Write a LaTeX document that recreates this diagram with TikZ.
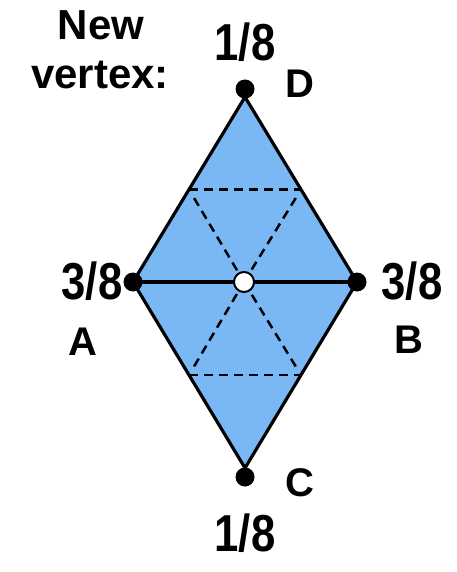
\documentclass[tikz,border=0pt]{standalone}
\usepackage{fontspec}
\setmainfont{Liberation Sans}
\newfontfamily\narrowfont[FakeStretch=0.84]{Liberation Sans}
\usetikzlibrary{calc}
\definecolor{shapefill}{RGB}{122,184,245}
\begin{document}
\begin{tikzpicture}[x=1pt,y=-1pt,
  wordlbl/.style={font=\fontsize{42}{42}\selectfont\bfseries, inner sep=0, anchor=base},
  fraclbl/.style={font=\narrowfont\fontsize{52}{52}\selectfont\bfseries, inner sep=0, anchor=base},
  letlbl/.style={font=\fontsize{40}{40}\selectfont\bfseries, inner sep=0, anchor=base},
  vdot/.style={circle, fill=black, minimum size=19pt, inner sep=0},
  odot/.style={circle, draw=black, fill=white, line width=2pt, minimum size=20pt, inner sep=0},
  edge/.style={line width=3.2pt, line join=round},
  guide/.style={line width=2.5pt, dash pattern=on 9pt off 6pt}
]
\useasboundingbox (0,0) rectangle (456,572);
\coordinate (Dt) at (245,97);
\coordinate (Ct) at (245,468);
\coordinate (A) at (133,282);
\coordinate (B) at (357,282);
\coordinate (M) at (244,282);
\fill[shapefill] (Dt) -- (A) -- (Ct) -- (B) -- cycle;
\coordinate (mDA) at ($(Dt)!0.5!(A)$);
\coordinate (mDB) at ($(Dt)!0.5!(B)$);
\coordinate (mCA) at ($(Ct)!0.5!(A)$);
\coordinate (mCB) at ($(Ct)!0.5!(B)$);
\draw[guide] (mDA) -- (mDB);
\draw[guide] (mCA) -- (mCB);
\draw[guide, shorten <=10pt, shorten >=8pt] (mDA) -- (M);
\draw[guide, shorten <=10pt, shorten >=8pt] (mDB) -- (M);
\draw[guide, shorten <=10pt, shorten >=8pt] (mCA) -- (M);
\draw[guide, shorten <=10pt, shorten >=8pt] (mCB) -- (M);
\draw[edge] (Dt) -- (A) -- (Ct) -- (B) -- cycle;
\draw[edge] (A) -- (B);
\node[vdot] (nD) at (245,89) {};
\node[vdot] (nC) at (245,477) {};
\node[vdot] (nA) at (A) {};
\node[vdot] (nB) at (B) {};
\node[odot] (nM) at (M) {};
\node[wordlbl] (tNew) at (101,40) {New};
\node[wordlbl] (tVert) at (100,89) {vertex:};
\node[fraclbl] (fD) at (245,61) {1/8};
\node[fraclbl] (fA) at (92,299) {3/8};
\node[fraclbl] (fB) at (412,299) {3/8};
\node[fraclbl] (fC) at (245,551) {1/8};
\node[letlbl] (lD) at (300,98) {D};
\node[letlbl] (lA) at (83,355) {A};
\node[letlbl] (lB) at (409,353) {B};
\node[letlbl] (lC) at (300,496) {C};
\end{tikzpicture}
\end{document}
